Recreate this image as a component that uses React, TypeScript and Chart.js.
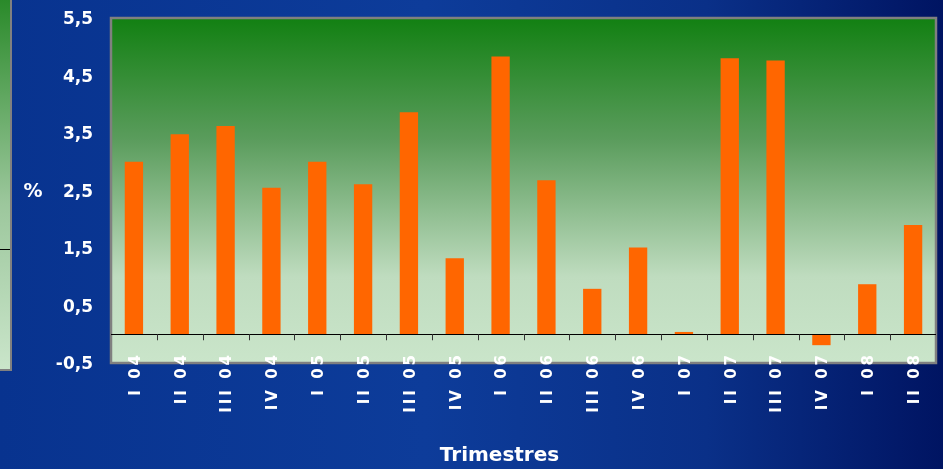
import React, { useEffect, useRef } from "react";
import { Chart, registerables } from "chart.js";

Chart.register(...registerables);

const categories = [
  "I 04", "II 04", "III 04", "IV 04",
  "I 05", "II 05", "III 05", "IV 05",
  "I 06", "II 06", "III 06", "IV 06",
  "I 07", "II 07", "III 07", "IV 07",
  "I 08", "II 08",
];
const values = [
  3.0, 3.48, 3.62, 2.55,
  3.0, 2.61, 3.86, 1.32,
  4.83, 2.68, 0.79, 1.51,
  0.04, 4.8, 4.76, -0.19,
  0.87, 1.9,
];
const yTicks = [5.5, 4.5, 3.5, 2.5, 1.5, 0.5, -0.5];
const yTitle = "%";
const xTitle = "Trimestres";

const FONT = "'DejaVu Sans', sans-serif";

const decorPlugin = {
  id: "decor",
  afterLayout(chart: any) {
    const xs = chart.scales.x;
    if (xs && !xs.__patched) {
      const orig = xs.drawLabels;
      xs._computeLabelArea = () => undefined;
      xs.drawLabels = function (area: any) {
        const ctx = this.ctx;
        ctx.save();
        (ctx as any).letterSpacing = "3px";
        orig.call(this, area);
        ctx.restore();
      };
      xs.__patched = true;
    }
  },
  beforeDraw(chart: any) {
    const { ctx, chartArea } = chart;
    const { left, top, right, bottom } = chartArea;
    ctx.save();
    const g = ctx.createLinearGradient(0, top, 0, bottom);
    g.addColorStop(0, "#128012");
    g.addColorStop(0.35, "#5a9c5c");
    g.addColorStop(0.75, "#bfdcbf");
    g.addColorStop(1, "#cae5ca");
    ctx.fillStyle = g;
    ctx.fillRect(left, top, right - left, bottom - top);
    ctx.strokeStyle = "#808080";
    ctx.lineWidth = 2.5;
    ctx.strokeRect(left, top, right - left, bottom - top);
    ctx.restore();
  },
  afterDatasetsDraw(chart: any) {
    const { ctx, chartArea, scales } = chart;
    const { left, right } = chartArea;
    const x = scales.x;
    const y = scales.y;
    const y0 = y.getPixelForValue(0);
    ctx.save();
    ctx.strokeStyle = "#000000";
    ctx.lineWidth = 1;
    ctx.beginPath();
    ctx.moveTo(left, Math.round(y0) + 0.5);
    ctx.lineTo(right, Math.round(y0) + 0.5);
    ctx.stroke();
    ctx.strokeStyle = "#333333";
    for (let i = 1; i < categories.length; i++) {
      const bx = Math.round((x.getPixelForValue(i - 1) + x.getPixelForValue(i)) / 2) + 0.5;
      ctx.beginPath();
      ctx.moveTo(bx, y0);
      ctx.lineTo(bx, y0 + 6);
      ctx.stroke();
    }
    ctx.fillStyle = "#ffffff";
    ctx.font = "bold 19px " + FONT;
    ctx.textAlign = "center";
    ctx.textBaseline = "middle";
    ctx.fillText(yTitle, left - 78, y.getPixelForValue(2.5) + 2);
    ctx.font = "bold 20px " + FONT;
    ctx.fillText(xTitle, (left + right) / 2 - 24, 456);
    ctx.restore();
  },
};

export default function App() {
  const ref = useRef<HTMLCanvasElement | null>(null);
  useEffect(() => {
    if (!ref.current) return;
    const chart = new Chart(ref.current, {
      type: "bar",
      data: {
        labels: categories,
        datasets: [
          {
            data: values,
            backgroundColor: "#ff6600",
            borderWidth: 0,
            categoryPercentage: 1,
            barPercentage: 0.4,
          },
        ],
      },
      options: {
        animation: false,
        responsive: false,
        devicePixelRatio: 1,
        layout: { padding: { top: 18, right: 7, left: 0, bottom: 0 } },
        plugins: { legend: { display: false }, tooltip: { enabled: false } },
        scales: {
          x: {
            offset: true,
            grid: { display: false, drawTicks: false },
            border: { display: false },
            ticks: {
              color: "#ffffff",
              font: { family: FONT, weight: "bold", size: 15 },
              maxRotation: 90,
              minRotation: 90,
              padding: -11,
              labelOffset: 2,
              autoSkip: false,
            },
            afterFit(scale: any) {
              scale.height = 106;
              scale.paddingLeft = 0;
              scale.paddingRight = 0;
            },
          },
          y: {
            min: -0.5,
            max: 5.5,
            grid: { display: false, drawTicks: false },
            border: { display: false },
            afterBuildTicks(scale: any) {
              scale.ticks = yTicks.map((v) => ({ value: v }));
            },
            ticks: {
              color: "#ffffff",
              font: { family: FONT, weight: "bold", size: 17 },
              padding: 18,
              labelOffset: 2,
              callback: (v: any) => String(v).replace(".", ","),
            },
            afterFit(scale: any) {
              scale.width = 111;
              scale.paddingTop = 0;
              scale.paddingBottom = 0;
            },
          },
        },
      },
      plugins: [decorPlugin],
    });
    return () => chart.destroy();
  }, []);

  return (
    <div
      style={{
        position: "fixed",
        left: 0,
        top: 0,
        width: 943,
        height: 469,
        overflow: "hidden",
        background:
          "linear-gradient(90deg, #08338f 0%, #0d3c9a 45%, #0a3088 75%, #001462 100%)",
      }}
    >
      <div
        style={{
          position: "absolute",
          left: 0,
          top: 0,
          width: 10,
          height: 369,
          borderRight: "2px solid #808080",
          borderBottom: "2px solid #808080",
          background: "linear-gradient(180deg, #2a8a2a 0%, #9cc79c 55%, #cae5ca 100%)",
        }}
      >
        <div
          style={{
            position: "absolute",
            left: 0,
            top: 249,
            width: 10,
            height: 1,
            background: "#000",
          }}
        />
      </div>
      <canvas ref={ref} width={943} height={469} style={{ position: "absolute", left: 0, top: 0 }} />
    </div>
  );
}
